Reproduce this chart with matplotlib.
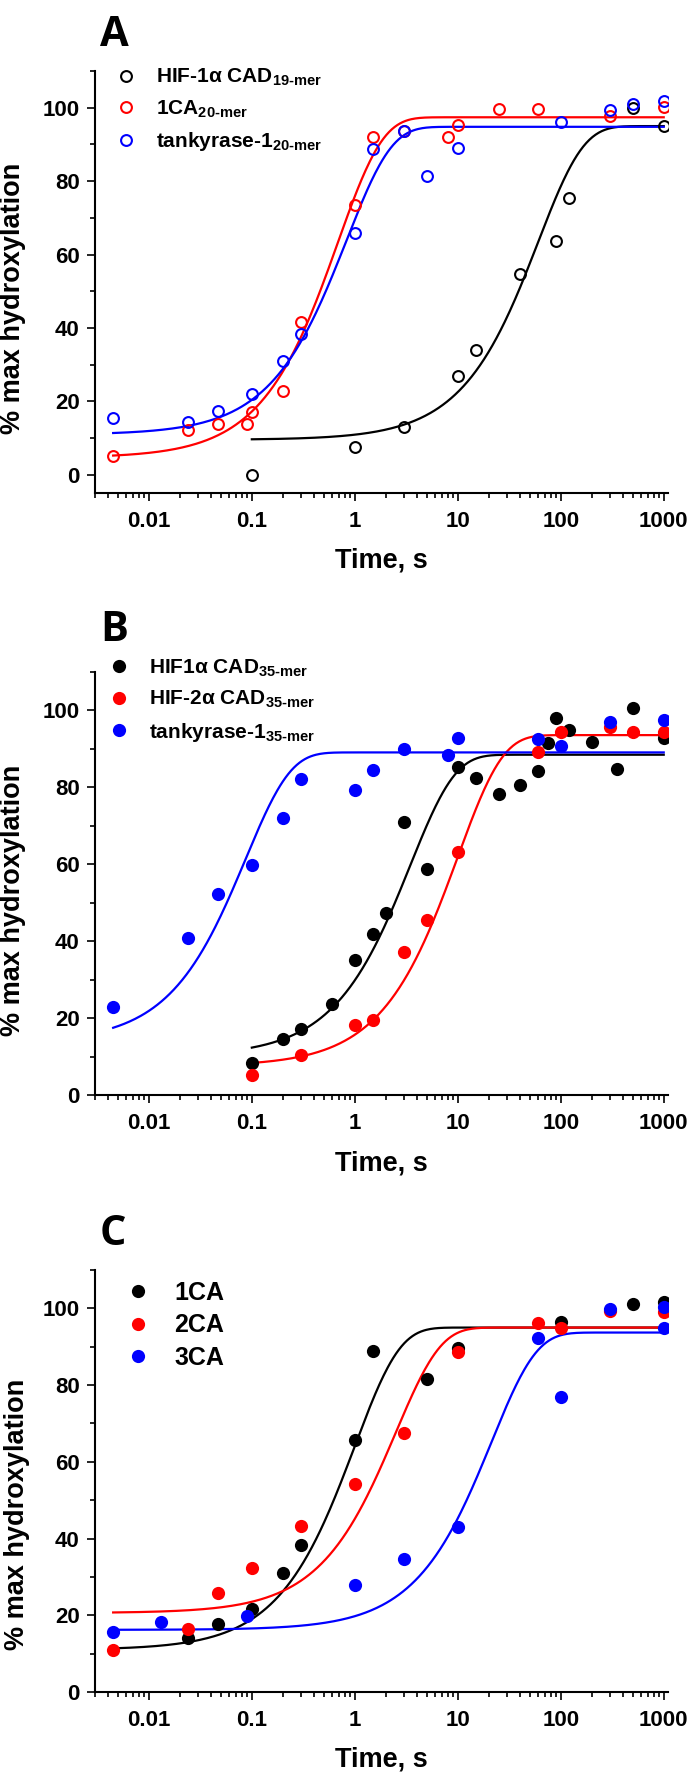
import numpy as np
import matplotlib
matplotlib.use("Agg")
import matplotlib.pyplot as plt
from matplotlib.ticker import LogLocator, MultipleLocator, NullFormatter

plt.rcParams['font.family'] = ['Liberation Sans', 'DejaVu Sans']
plt.rcParams['font.weight'] = 'bold'
plt.rcParams['axes.labelweight'] = 'bold'
plt.rcParams['mathtext.fontset'] = 'custom'
plt.rcParams['mathtext.rm'] = 'Liberation Sans:bold'
plt.rcParams['mathtext.it'] = 'Liberation Sans:bold'
plt.rcParams['mathtext.bf'] = 'Liberation Sans:bold'

# ---- data (time in s, % max hydroxylation) ----
# panel A (open circles)
A_hif_t = [0.1, 1, 3, 10, 15, 40, 90, 120, 500, 1000]
A_hif_y = [0, 7.5, 13.1, 26.8, 33.9, 54.7, 63.6, 75.3, 99.8, 95.0]
A_1ca_t = [0.0045, 0.024, 0.047, 0.09, 0.1, 0.2, 0.3, 1, 1.5, 3, 8, 10, 25, 60, 300, 1000]
A_1ca_y = [5.2, 12.2, 13.9, 13.8, 17.2, 22.8, 41.5, 73.4, 92.0, 93.6, 92.0, 95.2, 99.7, 99.7, 97.8, 100.2]
A_tnk_t = [0.0045, 0.024, 0.047, 0.1, 0.2, 0.3, 1, 1.5, 3, 5, 10, 100, 300, 500, 1000]
A_tnk_y = [15.4, 14.3, 17.4, 21.9, 31.0, 38.3, 65.8, 88.8, 93.7, 81.4, 89.1, 96.1, 99.4, 101.0, 101.7]

# panel B (filled circles)
B_hif1_t = [0.1, 0.2, 0.3, 0.6, 1, 1.5, 2, 3, 5, 10, 15, 25, 40, 60, 75, 90, 120, 200, 350, 500, 1000]
B_hif1_y = [8.3, 14.7, 17.1, 23.8, 35.2, 41.9, 47.3, 70.9, 58.7, 85.3, 82.4, 78.2, 80.6, 84.3,
            91.5, 98.1, 94.9, 91.9, 84.9, 100.6, 92.8]
B_hif2_t = [0.1, 0.3, 1, 1.5, 3, 5, 10, 60, 100, 300, 500, 1000]
B_hif2_y = [5.2, 10.3, 18.3, 19.5, 37.1, 45.6, 63.1, 89.3, 94.5, 95.8, 94.3, 94.3]
B_tnk_t = [0.0045, 0.024, 0.047, 0.1, 0.2, 0.3, 1, 1.5, 3, 8, 10, 60, 100, 300, 1000]
B_tnk_y = [23.0, 40.9, 52.2, 59.7, 72.1, 82.1, 79.2, 84.5, 90.0, 88.4, 92.8, 92.6, 90.8, 96.9, 97.6]

# panel C (filled circles)
C_1ca_t = [0.024, 0.047, 0.1, 0.2, 0.3, 1, 1.5, 5, 10, 100, 500, 1000]
C_1ca_y = [14.1, 17.7, 21.7, 30.9, 38.4, 65.8, 89.0, 81.6, 89.6, 96.5, 101.1, 101.7]
C_2ca_t = [0.0045, 0.024, 0.047, 0.1, 0.3, 1, 3, 10, 60, 100, 300, 1000]
C_2ca_y = [10.9, 16.5, 25.7, 32.2, 43.2, 54.2, 67.4, 88.7, 96.3, 94.8, 99.3, 99.1]
C_3ca_t = [0.0045, 0.013, 0.09, 1, 3, 10, 60, 100, 300, 1000, 1000]
C_3ca_y = [15.7, 18.3, 19.7, 27.8, 34.6, 42.9, 92.4, 76.8, 99.8, 100.4, 94.8]

# single-exponential fits: (y0, plateau, k in 1/s, first time of curve)
A_hif_fit = (9.5, 95.0, 0.0165, 0.1)
A_1ca_fit = (4.6, 97.4, 1.46, 0.0045)
A_tnk_fit = (10.9, 94.8, 1.2, 0.0045)
B_hif1_fit = (10.1, 88.5, 0.29, 0.1)
B_hif2_fit = (7.5, 93.6, 0.1, 0.1)
B_tnk_fit = (13.7, 89.1, 11.5, 0.0045)
C_1ca_fit = (11.0, 95.0, 1.0, 0.0045)
C_2ca_fit = (20.6, 95.0, 0.4, 0.0045)
C_3ca_fit = (16.2, 93.7, 0.047, 0.0045)

A_labels = ['HIF-1α CAD$_{\\text{19-mer}}$', '1CA$_{\\text{20-mer}}$', 'tankyrase-1$_{\\text{20-mer}}$']
B_labels = ['HIF1α CAD$_{\\text{35-mer}}$', 'HIF-2α CAD$_{\\text{35-mer}}$', 'tankyrase-1$_{\\text{35-mer}}$']
C_labels = ['1CA', '2CA', '3CA']
colors = ['black', '#ff0000', '#0000ff']

x_ticks = [0.01, 0.1, 1, 10, 100, 1000]
x_ticklabels = ['0.01', '0.1', '1', '10', '100', '1000']
y_ticks = [0, 20, 40, 60, 80, 100]


def fit_curve(fit):
    y0, top, k, t0 = fit
    t = np.logspace(np.log10(t0), 3, 400)
    return t, y0 + (top - y0) * (1 - np.exp(-k * t))


def panel(ax, series, labels, fits, open_markers, ylim, leg_xy, leg_fs, leg_sp, ylab_xy):
    for (t, y), fit, c, lab in zip(series, fits, colors, labels):
        if open_markers:
            ax.plot(t, y, 'o', ms=7.8, mfc='none', mec=c, mew=1.5, label=lab, zorder=3)
        else:
            ax.plot(t, y, 'o', ms=9.5, mfc=c, mec=c, mew=0, label=lab, zorder=3)
        tc, yc = fit_curve(fit)
        ax.plot(tc, yc, '-', color=c, lw=1.6, zorder=2)

    ax.set_xscale('log')
    ax.set_xlim(0.003, 1100)
    ax.set_ylim(*ylim)
    ax.set_xticks(x_ticks, x_ticklabels)
    ax.xaxis.set_minor_locator(LogLocator(base=10, subs=np.arange(2, 10), numticks=100))
    ax.xaxis.set_minor_formatter(NullFormatter())
    ax.set_yticks(y_ticks)
    ax.yaxis.set_minor_locator(MultipleLocator(10))

    for s in ['top', 'right']:
        ax.spines[s].set_visible(False)
    for s in ['left', 'bottom']:
        ax.spines[s].set_linewidth(1.5)
    ax.tick_params(which='major', length=6, width=1.2, labelsize=16)
    ax.tick_params(which='minor', length=3.3, width=1.2)
    ax.tick_params(axis='x', which='major', pad=7)
    ax.tick_params(axis='y', which='major', pad=5)

    ax.set_xlabel('Time, s', fontsize=19.5)
    ax.xaxis.set_label_coords(0.5, -0.13)
    ax.set_ylabel('% max hydroxylation', fontsize=19.5)
    ax.yaxis.set_label_coords(*ylab_xy)

    ax.legend(loc='upper left', bbox_to_anchor=leg_xy, frameon=False, fontsize=leg_fs,
              handlelength=1.0, handletextpad=0.95, borderpad=0, borderaxespad=0,
              labelspacing=leg_sp)


fig = plt.figure(figsize=(6.88, 17.76), dpi=100)
axA = fig.add_axes([0.1381, 0.7224, 0.8328, 0.2376])
axB = fig.add_axes([0.1381, 0.3834, 0.8328, 0.2382])
axC = fig.add_axes([0.1381, 0.0473, 0.8328, 0.2376])

panel(axA, [(A_hif_t, A_hif_y), (A_1ca_t, A_1ca_y), (A_tnk_t, A_tnk_y)], A_labels,
      [A_hif_fit, A_1ca_fit, A_tnk_fit], True, (-5, 110), (0.036, 1.01), 15, 0.5, (-0.12, 0.462))
panel(axB, [(B_hif1_t, B_hif1_y), (B_hif2_t, B_hif2_y), (B_tnk_t, B_tnk_y)], B_labels,
      [B_hif1_fit, B_hif2_fit, B_tnk_fit], False, (0, 110), (0.024, 1.035), 15, 0.5, (-0.12, 0.461))
panel(axC, [(C_1ca_t, C_1ca_y), (C_2ca_t, C_2ca_y), (C_3ca_t, C_3ca_y)], C_labels,
      [C_1ca_fit, C_2ca_fit, C_3ca_fit], False, (0, 110), (0.053, 0.975), 18, 0.35, (-0.114, 0.42))

for letter, yb in [('A', 46), ('B', 641), ('C', 1245)]:
    fig.text(100 / 688, 1 - yb / 1776, letter, fontsize=30, family='Open Sans',
             fontweight='bold', va='baseline', ha='left')

fig.savefig('out.png', dpi=100)
